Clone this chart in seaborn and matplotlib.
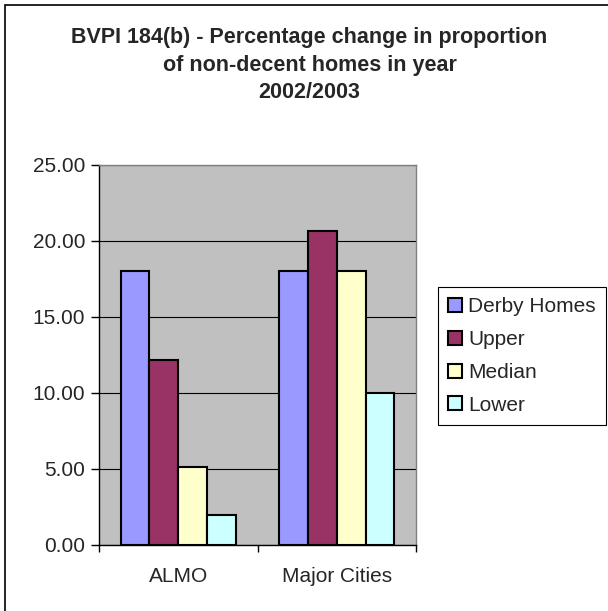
import numpy as np
import pandas as pd
import matplotlib
matplotlib.use('Agg')
import matplotlib.pyplot as plt
from matplotlib.patches import Rectangle
from matplotlib.ticker import FixedLocator, FormatStrFormatter
import seaborn as sns

# --- data ---
groups = ['ALMO', 'Major Cities']
series = ['Derby Homes', 'Upper', 'Median', 'Lower']
almo_values = [18.0, 12.15, 5.15, 2.0]
major_cities_values = [18.0, 20.65, 18.0, 10.0]
colors = ['#9999FF', '#993366', '#FFFFCC', '#CCFFFF']
yticks = [0, 5, 10, 15, 20, 25]
title = 'BVPI 184(b) - Percentage change in proportion\nof non-decent homes in year\n2002/2003'

df = pd.DataFrame({
    'group': np.repeat(groups, len(series)),
    'series': series * len(groups),
    'value': almo_values + major_cities_values,
})

sns.set_theme(style='white')
plt.rcParams['font.family'] = ['Liberation Sans', 'DejaVu Sans']

fig = plt.figure(figsize=(6.08, 6.11), dpi=100)
W, H = 608, 611
ax = fig.add_axes([99 / W, 1 - 545 / H, (416 - 99) / W, (545 - 165) / H])
ax.set_facecolor('#C0C0C0')

sns.barplot(data=df, x='group', y='value', hue='series', palette=colors,
            hue_order=series, order=groups, width=0.726, saturation=1,
            edgecolor='black', linewidth=1.5, ax=ax, zorder=3)

ax.set_xlim(-0.5, 1.5)
ax.set_ylim(0, 25)
ax.set_xlabel('')
ax.set_ylabel('')

# gridlines
ax.yaxis.set_major_locator(FixedLocator(yticks))
ax.yaxis.set_major_formatter(FormatStrFormatter('%.2f'))
ax.grid(axis='y', color='black', linewidth=0.8, zorder=1)
ax.set_axisbelow(True)

# spines
for s in ['top', 'right']:
    ax.spines[s].set_color('#808080')
    ax.spines[s].set_linewidth(1.0)
for s in ['left', 'bottom']:
    ax.spines[s].set_color('black')
    ax.spines[s].set_linewidth(1.0)

ax.tick_params(axis='y', which='major', direction='out', length=6, width=1,
               color='black', labelsize=15, pad=4, left=True)
ax.set_xticks([0, 1])
ax.set_xticklabels(groups)
ax.tick_params(axis='x', which='major', length=0, labelsize=15, pad=16)
ax.set_xticks([-0.5, 0.5, 1.5], minor=True)
ax.tick_params(axis='x', which='minor', direction='out', length=5, width=1,
               color='black', bottom=True)

# legend
leg = ax.legend(loc='upper left', bbox_to_anchor=(438 / W, 1 - 287 / H),
                bbox_transform=fig.transFigure, borderaxespad=0,
                fontsize=15, frameon=True, fancybox=False, shadow=False,
                handlelength=0.65, handleheight=0.65, handletextpad=0.3,
                labelspacing=0.66, borderpad=0.5)
leg.get_frame().set_edgecolor('black')
leg.get_frame().set_linewidth(0.8)
leg.get_frame().set_facecolor('white')
leg.get_frame().set_alpha(1)

fig.text(309.5 / W, 1 - 65 / H, title, ha='center', va='center',
         fontsize=15.5, fontweight='bold', linespacing=1.42)

# chart frame (only left and top edges fall inside the picture)
fig.add_artist(Rectangle((5 / W, -0.5), 2, 1.5 - 5 / H, transform=fig.transFigure,
                         fill=False, edgecolor='black', linewidth=1.2))

fig.savefig('out.png', dpi=100)
